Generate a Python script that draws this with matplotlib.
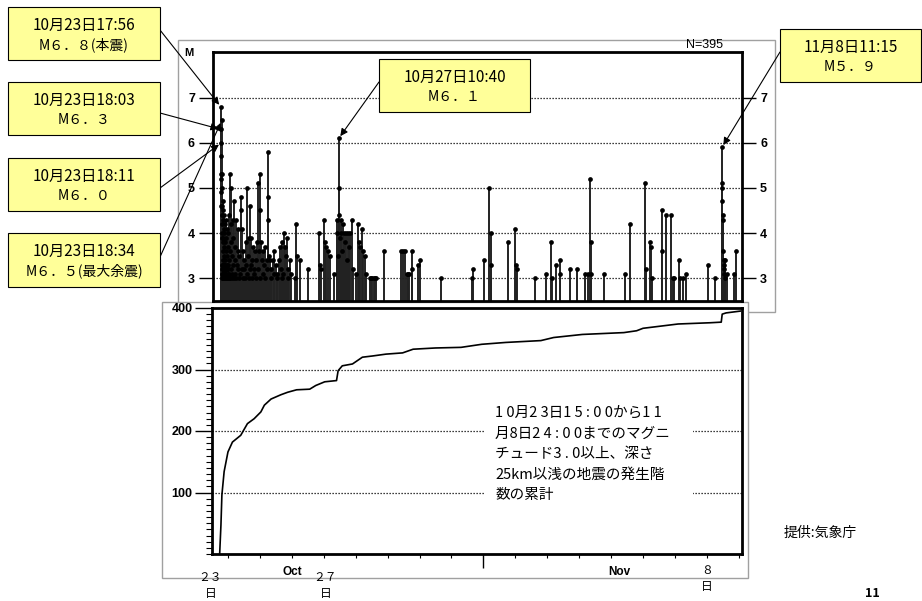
import matplotlib
matplotlib.use('Agg')
import matplotlib.pyplot as plt
from matplotlib.patches import Rectangle
from matplotlib.ticker import MultipleLocator
from matplotlib.transforms import blended_transform_factory

plt.rcParams['font.family'] = ['Noto Sans CJK JP', 'DejaVu Sans']

W, H = 922, 601

# events: (days since 23 Oct 00:00, magnitude)
oct23 = [(0.747, 6.8), (0.750, 5.2), (0.752, 6.3), (0.755, 4.6), (0.757, 6.0), (0.760, 5.7),
         (0.763, 4.9), (0.766, 5.3), (0.770, 4.4), (0.772, 3.9), (0.774, 6.5), (0.778, 5.0),
         (0.782, 4.6), (0.786, 4.2), (0.790, 5.3), (0.795, 4.0), (0.800, 4.7), (0.805, 3.8),
         (0.810, 4.3), (0.815, 3.6), (0.820, 4.5), (0.826, 3.9), (0.832, 4.1), (0.838, 3.5),
         (0.845, 4.4), (0.852, 3.7), (0.860, 4.0), (0.868, 3.4), (0.876, 4.2), (0.884, 3.8),
         (0.892, 3.3), (0.900, 4.3), (0.910, 3.6), (0.920, 3.9), (0.930, 3.2), (0.940, 4.1),
         (0.950, 3.5), (0.960, 3.7), (0.970, 3.1), (0.980, 4.0), (0.990, 3.4)]
oct24 = [(1.00, 4.4), (1.02, 3.6), (1.03, 5.3), (1.05, 4.2), (1.06, 3.8), (1.08, 5.0),
         (1.10, 3.5), (1.12, 4.3), (1.14, 3.9), (1.16, 4.7), (1.18, 3.4), (1.20, 3.7),
         (1.22, 4.3), (1.25, 3.3), (1.27, 3.6), (1.30, 4.1), (1.33, 3.5), (1.37, 4.8),
         (1.38, 4.5), (1.40, 3.2), (1.42, 4.1), (1.45, 3.6), (1.48, 3.4), (1.52, 3.8),
         (1.55, 3.3), (1.58, 5.0), (1.60, 3.5), (1.63, 3.9), (1.66, 4.6), (1.68, 3.3),
         (1.70, 3.9), (1.73, 3.4), (1.76, 3.7), (1.79, 3.2), (1.82, 3.6), (1.85, 3.4),
         (1.88, 3.8), (1.92, 5.1), (1.94, 3.6), (1.97, 5.3), (1.98, 4.5)]
oct25 = [(2.02, 3.8), (2.05, 3.4), (2.08, 3.6), (2.11, 3.3), (2.14, 3.7), (2.18, 3.4),
         (2.23, 5.8), (2.225, 4.3), (2.24, 4.8), (2.26, 3.5), (2.29, 3.4), (2.33, 3.2),
         (2.37, 3.4), (2.42, 3.6), (2.47, 3.3), (2.52, 3.1), (2.56, 3.4), (2.60, 3.7),
         (2.65, 3.8), (2.68, 3.0), (2.73, 4.0), (2.76, 3.7), (2.79, 3.5), (2.82, 3.9),
         (2.86, 3.2), (2.91, 3.4), (2.95, 3.1)]
# the many small shocks that fill the black block of the first days
small_early = [(0.775, 3.2), (0.785, 3.0), (0.792, 3.3), (0.798, 3.1), (0.803, 3.4),
               (0.808, 3.0), (0.812, 3.2), (0.818, 3.3), (0.823, 3.0), (0.829, 3.1),
               (0.835, 3.3), (0.842, 3.0), (0.848, 3.2), (0.856, 3.1), (0.864, 3.0),
               (0.872, 3.2), (0.880, 3.1), (0.888, 3.0), (0.896, 3.2), (0.905, 3.0),
               (0.915, 3.1), (0.925, 3.3), (0.935, 3.0), (0.945, 3.2), (0.955, 3.0),
               (0.965, 3.3), (0.975, 3.0), (0.985, 3.2), (0.995, 3.0), (1.01, 3.1),
               (1.04, 3.0), (1.07, 3.2), (1.09, 3.0), (1.11, 3.1), (1.13, 3.3),
               (1.15, 3.0), (1.19, 3.1), (1.23, 3.0), (1.28, 3.2), (1.32, 3.0),
               (1.35, 3.1), (1.43, 3.0), (1.47, 3.2), (1.50, 3.0), (1.57, 3.1),
               (1.62, 3.0), (1.65, 3.2), (1.72, 3.0), (1.78, 3.1), (1.84, 3.0),
               (1.90, 3.2), (1.96, 3.0), (2.06, 3.1), (2.12, 3.0), (2.20, 3.2),
               (2.31, 3.0), (2.40, 3.1), (2.50, 3.0), (2.62, 3.2), (2.71, 3.1),
               (2.84, 3.0)]
oct26_28 = [(3.07, 3.0), (3.12, 4.2), (3.13, 3.5), (3.23, 3.4), (3.49, 3.2), (3.83, 4.0),
            (3.85, 3.3), (3.88, 3.2), (3.99, 4.3), (4.01, 3.8), (4.06, 3.7), (4.11, 3.6),
            (4.17, 3.5), (4.30, 3.1), (4.38, 4.3), (4.40, 4.0), (4.42, 3.5), (4.444, 6.1),
            (4.45, 5.0), (4.46, 4.4), (4.48, 3.9), (4.51, 4.3), (4.53, 4.0), (4.55, 3.6),
            (4.58, 4.2), (4.60, 4.0), (4.63, 3.8), (4.66, 4.0), (4.70, 3.4), (4.74, 4.0),
            (4.78, 3.7), (4.80, 4.0), (4.85, 4.3), (4.90, 3.2), (4.98, 3.1), (5.05, 4.2),
            (5.08, 3.8), (5.11, 3.7), (5.16, 4.1), (5.21, 3.6), (5.26, 3.5), (5.30, 3.1),
            (5.42, 3.0), (5.46, 3.0), (5.50, 3.0), (5.54, 3.0), (5.58, 3.0), (5.62, 3.0),
            (5.87, 3.6)]
late = [(6.39, 3.6), (6.47, 3.6), (6.54, 3.6), (6.58, 3.1), (6.61, 3.1), (6.65, 3.1),
        (6.73, 3.6), (6.76, 3.2), (6.92, 3.3), (6.99, 3.4), (7.67, 3.0), (8.63, 3.0),
        (8.66, 3.2), (9.00, 3.4), (9.15, 5.0), (9.21, 4.0), (9.23, 3.3), (9.76, 3.8),
        (9.99, 4.1), (10.01, 3.3), (10.03, 3.2), (10.59, 3.0), (10.94, 3.1), (11.12, 3.8),
        (11.14, 3.0), (11.27, 3.3), (11.38, 3.4), (11.40, 3.1), (11.71, 3.2), (11.92, 3.2),
        (12.16, 3.1), (12.26, 3.1), (12.34, 5.2), (12.35, 3.8), (12.37, 3.1), (12.76, 3.1),
        (13.42, 3.1), (13.57, 4.2), (14.07, 5.1), (14.08, 3.2), (14.20, 3.8), (14.24, 3.7),
        (14.28, 3.0), (14.58, 4.5), (14.59, 3.6), (14.72, 4.4), (14.88, 4.4), (14.93, 3.0),
        (14.98, 3.0), (15.11, 3.4), (15.17, 3.0), (15.25, 3.0), (15.33, 3.1), (16.03, 3.3),
        (16.24, 3.0)]
nov8 = [(16.469, 5.9), (16.47, 5.1), (16.475, 5.0), (16.48, 4.7), (16.49, 4.4), (16.50, 4.3),
        (16.51, 3.6), (16.52, 3.4), (16.53, 3.3), (16.54, 3.2), (16.55, 3.1), (16.56, 3.0),
        (16.58, 3.4), (16.62, 3.1), (16.84, 3.1), (16.92, 3.6)]

# cumulative number of events
cum_t = [0.74, 0.78, 0.81, 0.88, 1.00, 1.14, 1.40, 1.61, 1.82, 2.03, 2.14, 2.35, 2.66, 2.87,
         3.15, 3.56, 3.75, 4.03, 4.40, 4.45, 4.58, 4.90, 5.21, 5.53, 5.95, 6.47, 6.80, 7.50,
         8.30, 8.95, 9.70, 10.80, 11.20, 12.10, 13.40, 13.80, 14.00, 15.10, 16.10, 16.45,
         16.48, 16.60, 17.05]
cum_n = [0, 47, 96, 134, 166, 182, 193, 212, 220, 231, 242, 252, 259, 263,
         267, 268, 274, 280, 282, 298, 306, 309, 320, 322, 325, 327, 333, 335,
         336, 341, 344, 347, 352, 357, 360, 363, 367, 374, 376, 377,
         390, 392, 395]

mag_ticks = [3, 4, 5, 6, 7]
cnt_ticks = [100, 200, 300, 400]
day_ticks = list(range(1, 18))   # 24 Oct .. 9 Nov
day_labels = [(0.45, '２３\n日'), (4.05, '２７\n日')]

notes = [
    ('10月23日17:56', 'M６．８(本震)', (8, 7, 160, 60), (160, 30), (0.747, 6.8)),
    ('10月23日18:03', 'M６．３', (8, 82, 160, 135), (160, 113), (0.752, 6.3)),
    ('10月23日18:11', 'M６．０', (8, 158, 160, 211), (160, 188), (0.757, 6.0)),
    ('10月23日18:34', 'M６．５(最大余震)', (8, 233, 160, 287), (160, 257), (0.774, 6.5)),
    ('10月27日10:40', 'M６．１', (379, 59, 530, 112), (379, 82), (4.444, 6.1)),
    ('11月8日11:15', 'M５．９', (780, 29, 921, 82), (780, 52), (16.469, 5.9)),
]

desc = ['1 0月2 3日1 5 : 0 0から1 1', '月8日2 4 : 0 0までのマグニ',
        'チュード3 . 0以上、深さ', '25km以浅の地震の発生階', '数の累計']

events = sorted(oct23 + oct24 + oct25 + small_early + oct26_28 + late + nov8)
ev_t = [e[0] for e in events]
ev_m = [e[1] for e in events]


def fx(x):
    return x / W


def fy(y):
    return 1 - y / H


fig = plt.figure(figsize=(W / 100, H / 100), dpi=100)

# grey frames of the two pasted graphs
fig.add_artist(Rectangle((fx(178), fy(312)), (775 - 178) / W, (312 - 40) / H,
                         transform=fig.transFigure, facecolor='white',
                         edgecolor='#a0a0a0', lw=1, zorder=-2))
fig.add_artist(Rectangle((fx(162), fy(578)), (748 - 162) / W, (578 - 302) / H,
                         transform=fig.transFigure, facecolor='white',
                         edgecolor='#a0a0a0', lw=1, zorder=-1))

tick_font = dict(family='Liberation Sans', weight='bold', size=9)

# ---- upper panel: magnitudes
ax1 = fig.add_axes([fx(213), fy(301), (742 - 213) / W, (301 - 52) / H])
for m in mag_ticks:
    ax1.axhline(m, color='black', lw=0.9, ls=(0, (1, 1.4)), zorder=0.5)
ax1.vlines(ev_t, 2.0, ev_m, colors='#222222', lw=1.4, zorder=2)
ax1.plot(ev_t, ev_m, 'o', color='black', ms=3.4, mew=0, zorder=3)
ax1.set_xlim(0.5, 17.1)
ax1.set_ylim(2.49, 8.02)
ax1.set_xticks([])
ax1.set_yticks(mag_ticks)
ax1.tick_params(axis='y', direction='out', length=10, width=1, pad=3,
                left=True, right=True, labelleft=True, labelright=True)
for lab in ax1.get_yticklabels():
    lab.set_fontproperties(tick_font)
for sp in ax1.spines.values():
    sp.set_linewidth(2)
ax1.text(-0.045, 0.995, 'M', transform=ax1.transAxes, ha='center', va='center',
         fontfamily='Liberation Sans', fontweight='bold', fontsize=8)
ax1.text(0.93, 1.03, 'N=395', transform=ax1.transAxes, ha='center', va='center',
         fontfamily='Liberation Sans', fontsize=9)

for line1, line2, box, start, tip in notes:
    x0, y0, x1, y1 = box
    fig.add_artist(Rectangle((fx(x0), fy(y1)), (x1 - x0) / W, (y1 - y0) / H,
                             transform=fig.transFigure, facecolor='#ffff99',
                             edgecolor='black', lw=0.8, zorder=5))
    cx = fx((x0 + x1) / 2)
    fig.text(cx, fy(y0 + 18), line1, ha='center', va='center', fontsize=11, zorder=6)
    fig.text(cx, fy(y0 + 38), line2, ha='center', va='center', fontsize=10, zorder=6)
    ax1.annotate('', xy=tip, xycoords='data',
                 xytext=(start[0], H - start[1]), textcoords='figure pixels',
                 arrowprops=dict(arrowstyle='-|>', color='black', lw=0.8,
                                 mutation_scale=11, shrinkA=0, shrinkB=2),
                 annotation_clip=False, zorder=4)

# ---- lower panel: cumulative count
ax2 = fig.add_axes([fx(212), fy(554), (742 - 212) / W, (554 - 308) / H])
for c in cnt_ticks[:-1]:
    ax2.axhline(c, color='black', lw=0.9, ls=(0, (1, 1.4)), zorder=0.5)
ax2.plot(cum_t, cum_n, color='black', lw=1.2, zorder=2)
ax2.set_xlim(0.5, 17.1)
ax2.set_ylim(0, 400)
ax2.set_yticks(cnt_ticks)
ax2.yaxis.set_minor_locator(MultipleLocator(10))
ax2.tick_params(axis='y', which='major', direction='out', length=12, width=1, pad=2)
ax2.tick_params(axis='y', which='minor', direction='out', length=4, width=0.8)
for lab in ax2.get_yticklabels():
    lab.set_fontproperties(tick_font)
ax2.set_xticks([9])
ax2.set_xticklabels([''])
ax2.set_xticks(day_ticks, minor=True)
ax2.tick_params(axis='x', which='major', direction='out', length=10, width=1)
ax2.tick_params(axis='x', which='minor', direction='out', length=3, width=0.8)
for sp in ax2.spines.values():
    sp.set_linewidth(2)

bt = blended_transform_factory(ax2.transData, fig.transFigure)
ax2.text(3.0, fy(572), 'Oct', transform=bt, ha='center', va='center',
         fontfamily='Liberation Sans', fontweight='bold', fontsize=8.5)
ax2.text(13.25, fy(572), 'Nov', transform=bt, ha='center', va='center',
         fontfamily='Liberation Sans', fontweight='bold', fontsize=8.5)
for x, s in day_labels:
    ax2.text(x, fy(571), s, transform=bt, ha='center', va='top', fontsize=8.5,
             linespacing=1.3, clip_on=False)
ax2.text(16.0, fy(564), '８\n日', transform=bt, ha='center', va='top', fontsize=8.5,
         linespacing=1.3, clip_on=False)

# explanation box
fig.add_artist(Rectangle((fx(485), fy(505)), (693 - 485) / W, (505 - 400) / H,
                         transform=fig.transFigure, facecolor='white',
                         edgecolor='none', zorder=5))
for i, s in enumerate(desc):
    fig.text(fx(495), fy(413 + 20.5 * i), s, ha='left', va='center', fontsize=10.5, zorder=6)

fig.text(fx(820), fy(533), '提供:気象庁', ha='center', va='center', fontsize=10)
fig.text(fx(872), fy(600), '11', ha='center', va='bottom', fontsize=9, fontweight='bold')

fig.savefig('out.png', dpi=100)
